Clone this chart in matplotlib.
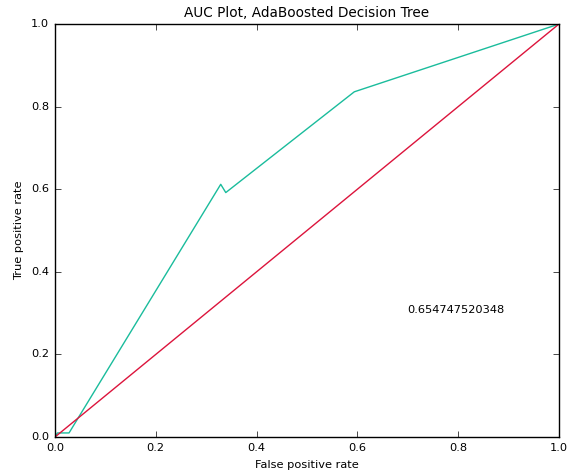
import matplotlib
matplotlib.use('Agg')
import matplotlib.pyplot as plt

# ROC curve points
fpr = [0.0, 0.005, 0.028, 0.329, 0.339, 0.594, 1.0]
tpr = [0.0, 0.010, 0.010, 0.612, 0.592, 0.836, 1.0]
diag = [0.0, 1.0]
auc = 0.654747520348

plt.style.use('classic')
plt.rcParams['font.size'] = 8.2
plt.rcParams['xtick.labelsize'] = 8.2
plt.rcParams['ytick.labelsize'] = 8.2
plt.rcParams['axes.labelsize'] = 8.2
plt.rcParams['axes.titlesize'] = 9.8

fig, ax = plt.subplots(figsize=(5.78, 4.72), dpi=100)
fig.subplots_adjust(left=0.095, right=0.967, bottom=0.074, top=0.949)

ax.plot(fpr, tpr, color='#1abc9c')
ax.plot(diag, diag, color='#dc143c')
ax.text(0.7, 0.3, str(auc))

ax.set_xlim(0, 1)
ax.set_ylim(0, 1)
ax.set_title('AUC Plot, AdaBoosted Decision Tree')
ax.set_xlabel('False positive rate')
ax.set_ylabel('True positive rate')

fig.savefig('out.png', dpi=100)
